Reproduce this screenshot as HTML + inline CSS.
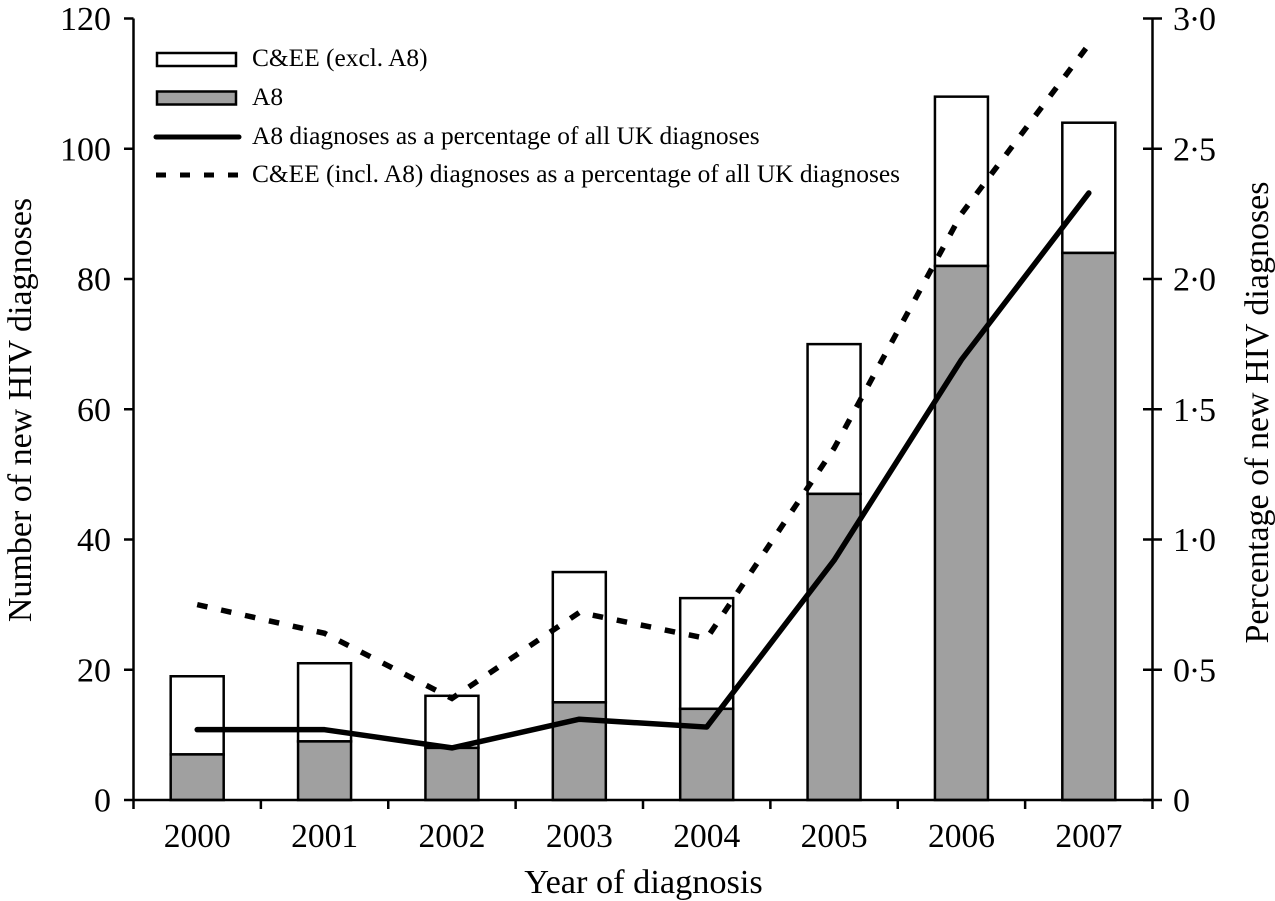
<!DOCTYPE html>
<html>
<head>
<meta charset="utf-8">
<title>New HIV diagnoses chart</title>
<style>
html,body{margin:0;padding:0;background:#fff;}
svg{display:block;}
text{font-family:"Liberation Serif",serif;fill:#000;}
</style>
</head>
<body>
<svg id="chart" width="1275" height="901" viewBox="0 0 1275 901" xmlns="http://www.w3.org/2000/svg">
<g id="bars"></g>
<g id="lines"></g>
<g id="axes"></g>
<g>
  <rect x="157" y="53" width="79" height="13" fill="#fff" stroke="#000" stroke-width="2.5"/>
  <text x="252" y="66" font-size="25.4">C&amp;EE (excl. A8)</text>
  <rect x="157" y="91.5" width="79" height="13" fill="#a0a0a0" stroke="#000" stroke-width="2.5"/>
  <text x="252" y="105" font-size="25.4">A8</text>
  <line x1="156" y1="137" x2="239" y2="137" stroke="#000" stroke-width="5" stroke-linecap="round"/>
  <text x="252" y="144" font-size="25.4">A8 diagnoses as a percentage of all UK diagnoses</text>
  <line x1="156" y1="175" x2="238" y2="175" stroke="#000" stroke-width="5" stroke-dasharray="10,14"/>
  <text x="252" y="182" font-size="25.4">C&amp;EE (incl. A8) diagnoses as a percentage of all UK diagnoses</text>
</g>
<text x="643.5" y="893" font-size="34.3" text-anchor="middle">Year of diagnosis</text>
<text transform="translate(31,410) rotate(-90)" font-size="34" text-anchor="middle">Number of new HIV diagnoses</text>
<text transform="translate(1268,412.5) rotate(-90)" font-size="34" text-anchor="middle">Percentage of new HIV diagnoses</text>
</svg>
<script>
const years = ['2000','2001','2002','2003','2004','2005','2006','2007'];
const a8Counts = [7,9,8,15,14,47,82,84];
const ceeExclCounts = [12,12,8,20,17,23,26,20];
const a8Percent = [0.27,0.27,0.2,0.31,0.28,0.92,1.69,2.33];
const ceePercent = [0.75,0.64,0.39,0.72,0.62,1.35,2.25,2.9];
const leftTicks = [0,20,40,60,80,100,120];
const rightTicks = ['0','0·5','1·0','1·5','2·0','2·5','3·0'];

const NS = 'http://www.w3.org/2000/svg';
const plotLeft = 133.5, plotRight = 1152.5, plotBottom = 800, plotTop = 18.5;
const barWidth = 53;
function xBand(i){ return plotLeft + (plotRight - plotLeft) * (i + 0.5) / years.length; }
function xEdge(i){ return plotLeft + (plotRight - plotLeft) * i / years.length; }
function yLeft(v){ return plotBottom - (plotBottom - plotTop) * v / 120; }
function yRight(v){ return plotBottom - (plotBottom - plotTop) * v / 3; }
function make(tag, parent, props){
  const el = document.createElementNS(NS, tag);
  for (const k in props) el.setAttribute(k, props[k]);
  parent.appendChild(el);
  return el;
}
const barsG = document.getElementById('bars');
const linesG = document.getElementById('lines');
const axesG = document.getElementById('axes');

years.forEach(function(year, i){
  const x = xBand(i) - barWidth / 2;
  const topA8 = yLeft(a8Counts[i]);
  const topAll = yLeft(a8Counts[i] + ceeExclCounts[i]);
  const upper = make('rect', barsG, {x:x, y:topAll, width:barWidth, height:topA8-topAll, fill:'#fff', stroke:'#000', 'stroke-width':2.5});
  
  
  const lower = make('rect', barsG, {x:x, y:topA8, width:barWidth, height:plotBottom-topA8, fill:'#a0a0a0', stroke:'#000', 'stroke-width':2.5});
  
  
});

function pts(values){ return values.map(function(v,i){ return xBand(i) + ',' + yRight(v); }).join(' '); }
const ceeLine = make('polyline', linesG, {points:pts(ceePercent), fill:'none', stroke:'#000', 'stroke-width':5.5, 'stroke-dasharray':'10.5,14'});


const a8Line = make('polyline', linesG, {points:pts(a8Percent), fill:'none', stroke:'#000', 'stroke-width':5.5, 'stroke-linecap':'round', 'stroke-linejoin':'round'});



const axisStyle = {stroke:'#000', 'stroke-width':2.5};
function axisLine(name, x1, y1, x2, y2){
  const l = make('line', axesG, Object.assign({x1:x1, y1:y1, x2:x2, y2:y2}, axisStyle));
  
  
}
axisLine('y-axis-left', plotLeft, plotTop, plotLeft, plotBottom);
axisLine('y-axis-right', plotRight, plotTop, plotRight, plotBottom);
axisLine('x-axis', plotLeft, plotBottom, plotRight, plotBottom);

leftTicks.forEach(function(v){
  const y = yLeft(v);
  axisLine('left-tick-' + v, 124, y, plotLeft, y);
  const t = make('text', axesG, {x:111, y:y+11.5, 'font-size':34, 'text-anchor':'end'});
  t.textContent = String(v);
  
  
});
rightTicks.forEach(function(label, i){
  const y = yRight(i * 0.5);
  axisLine('right-tick-' + i, 1143, y, 1162, y);
  const t = make('text', axesG, {x:1173, y:y+11.5, 'font-size':34});
  t.textContent = label;
  if (label.length > 1) t.setAttribute('textLength', '43');
  
  
});
for (let i = 0; i <= years.length; i++) {
  axisLine('x-tick-' + i, xEdge(i), plotBottom, xEdge(i), plotBottom + 9);
}
years.forEach(function(year, i){
  const t = make('text', axesG, {x:xBand(i), y:847, 'font-size':33.5, 'text-anchor':'middle'});
  t.textContent = year;
  
  
});
</script>
</body>
</html>
